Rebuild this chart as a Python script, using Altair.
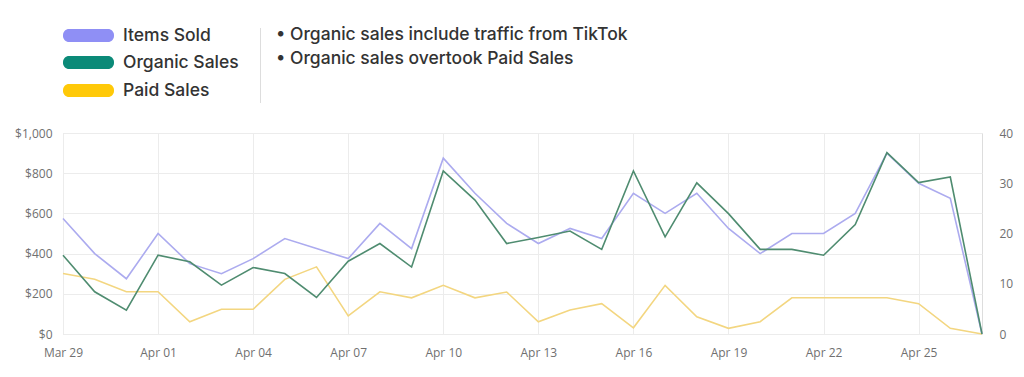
import altair as alt
import pandas as pd

dates = pd.date_range("2023-03-29", "2023-04-27", freq="D").strftime("%Y-%m-%d").tolist()
items_sold = [23, 16, 11, 20, 14, 12, 15, 19, 17, 15,
              22, 17, 35, 28, 22, 18, 21, 19, 28, 24,
              28, 21, 16, 20, 20, 24, 36, 30, 27, 0]
organic_sales = [392, 210, 119, 392, 359, 243, 331, 301, 182, 362,
                 450, 333, 811, 666, 450, 480, 512, 421, 811, 483,
                 752, 599, 421, 421, 392, 545, 902, 753, 781, 0]
paid_sales = [301, 272, 210, 210, 61, 123, 123, 272, 334, 90,
              210, 180, 242, 180, 209, 61, 119, 151, 31, 242,
              86, 28, 61, 180, 180, 180, 180, 151, 28, 0]
legend_names = ["Items Sold", "Organic Sales", "Paid Sales"]
notes = ["• Organic sales include traffic from TikTok",
         "• Organic sales overtook Paid Sales"]
left_ticks = [0, 200, 400, 600, 800, 1000]
right_ticks = [0, 10, 20, 30, 40]
x_tick_dates = dates[::3]

df = pd.DataFrame({"date": dates, "items": items_sold,
                   "organic": organic_sales, "paid": paid_sales})

AX_FONT = "Open Sans"
LBL = "#707070"
GRID = "#ececec"

x_enc = alt.X("date:T", scale=alt.Scale(type="utc", nice=False),
              axis=alt.Axis(title=None, format="%b %d", grid=True, gridColor=GRID,
                            ticks=False, domain=False, labelPadding=13, labelFlush=False,
                            labelFont=AX_FONT, labelFontSize=12, labelColor=LBL,
                            values=[alt.DateTime(year=int(d[:4]), month=int(d[5:7]),
                                                 date=int(d[8:]), utc=True)
                                    for d in x_tick_dates]))

base = alt.Chart(df)

left_axis = alt.Axis(title=None, orient="left", values=left_ticks, format="$,.0f",
                     grid=True, gridColor=GRID, ticks=False, domain=False,
                     labelPadding=11, labelFont=AX_FONT, labelFontSize=12, labelColor=LBL)
left_scale = alt.Scale(domain=[0, 1000], nice=False)

paid_line = base.mark_line(color="#f3d680", strokeWidth=1.6).encode(
    x=x_enc, y=alt.Y("paid:Q", scale=left_scale, axis=left_axis))
organic_line = base.mark_line(color="#4f8c70", strokeWidth=1.6).encode(
    x=x_enc, y=alt.Y("organic:Q", scale=left_scale, axis=left_axis))
left = alt.layer(paid_line, organic_line)

items_line = base.mark_line(color="#acabef", strokeWidth=1.6).encode(
    x=x_enc,
    y=alt.Y("items:Q", scale=alt.Scale(domain=[0, 40], nice=False),
            axis=alt.Axis(title=None, orient="right", values=right_ticks, grid=False,
                          ticks=False, domain=False, labelPadding=17,
                          labelFont=AX_FONT, labelFontSize=12, labelColor=LBL)))

swatch_colors = ["#8f8ff5", "#0b8a78", "#ffc908"]
swatch_tops = [-104, -77, -49]
decor = []
for name, col, top in zip(legend_names, swatch_colors, swatch_tops):
    ld = alt.Data(values=[{"name": name}])
    decor.append(alt.Chart(ld).mark_rect(color=col, cornerRadius=6).encode(
        x=alt.value(0), x2=alt.value(51), y=alt.value(top), y2=alt.value(top + 13)))
    decor.append(alt.Chart(ld).mark_text(
        align="left", baseline="middle", font="Inter", fontSize=17.5, fontWeight=500,
        color="#333333").encode(
        text="name:N", x=alt.value(60), y=alt.value(top + 6.5)))

decor.append(alt.Chart(alt.Data(values=[{"a": 1}])).mark_rule(
    color="#dddddd", strokeWidth=1).encode(
    x=alt.value(197.5), y=alt.value(-105), y2=alt.value(-30)))

for note, yy in zip(notes, [-98, -74]):
    decor.append(alt.Chart(alt.Data(values=[{"t": note}])).mark_text(
        align="left", baseline="middle", font="Inter", fontSize=17.5, fontWeight=500,
        color="#333333").encode(text="t:N", x=alt.value(213), y=alt.value(yy)))

chart = alt.layer(items_line, left, *decor).resolve_scale(y="independent").properties(
    width=919, height=201,
    padding={"left": 63, "top": 133, "right": 42, "bottom": 43},
    autosize=alt.AutoSizeParams(type="none"),
).configure_view(stroke=GRID).configure(background="white")

chart.save("out.html", embed_options={"renderer": "svg", "actions": False})
